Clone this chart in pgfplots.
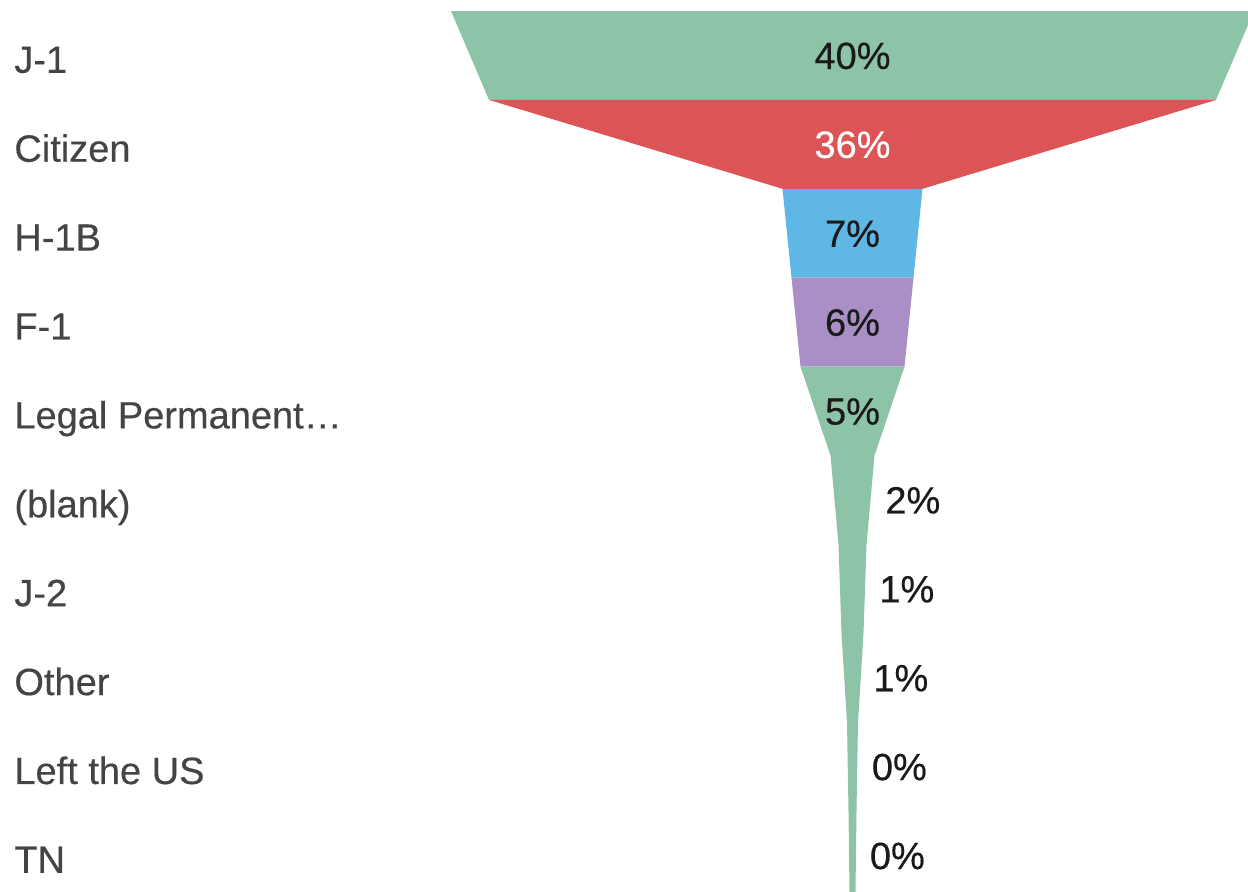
\documentclass[border=0pt]{standalone}
\usepackage{fontspec}
\setmainfont{Liberation Sans}[FakeBold=0.4]
\usepackage{pgfplots}
\pgfplotsset{compat=1.18}
\definecolor{fgreen}{HTML}{8DC3A7}
\definecolor{fred}{HTML}{DC5456}
\definecolor{fblue}{HTML}{5EB7E5}
\definecolor{fpurple}{HTML}{AA8FC7}
\definecolor{catgray}{HTML}{444444}
\definecolor{valblack}{HTML}{1A1A1A}

\begin{document}
\begin{tikzpicture}
\begin{axis}[
    scale only axis,
    width=624pt, height=446pt,
    xmin=-85.25, xmax=39.55,
    ymin=-0.124, ymax=9.91,
    y dir=reverse,
    hide axis,
    clip=false,
]
% frame points (invisible) to fix the picture size
\addplot[draw=none, mark=none] coordinates {(-85.25,-0.124) (39.55,9.91)};

% funnel: x = half width (percent), y = row boundary
\addplot[fill=fgreen, draw=none] coordinates {
    (-40.15,0) (39.55,0) (39.55,0.158) (36.35,1) (-36.35,1)};
\addplot[fill=fred, draw=none] coordinates {
    (-36.35,1) (36.35,1) (7.0,2) (-7.0,2)};
\addplot[fill=fblue, draw=none] coordinates {
    (-7.0,2) (7.0,2) (6.1,3) (-6.1,3)};
\addplot[fill=fpurple, draw=none] coordinates {
    (-6.1,3) (6.1,3) (5.2,4) (-5.2,4)};
\addplot[fill=fgreen, draw=none] coordinates {
    (-5.2,4) (5.2,4) (2.2,5) (1.4,6) (1.1,7) (0.55,8) (0.4,9) (0.3,9.91)
    (-0.3,9.91) (-0.4,9) (-0.55,8) (-1.1,7) (-1.4,6) (-2.2,5)};

% category labels
\addplot[draw=none, mark=none, nodes near coords, point meta=explicit symbolic,
    every node near coord/.append style={anchor=base west, inner sep=0pt,
        text=catgray, font=\fontsize{19pt}{19pt}\selectfont}]
    table[col sep=comma, meta=lab] {
x,y,lab
-83.85,0.695,J-1
-83.85,1.695,Citizen
-83.85,2.695,H-1B
-83.85,3.695,F-1
-83.85,4.695,Legal Permanent…
-83.85,5.695,(blank)
-83.85,6.695,J-2
-83.85,7.695,Other
-83.85,8.695,Left the US
-83.85,9.695,TN
};

% value labels inside the funnel
\addplot[draw=none, mark=none, nodes near coords, point meta=explicit symbolic,
    every node near coord/.append style={anchor=base, inner sep=0pt,
        text=valblack, font=\fontsize{19pt}{19pt}\selectfont}]
    table[col sep=comma, meta=lab] {
x,y,lab
0,0.652,40\%
0,2.652,7\%
0,3.652,6\%
0,4.652,5\%
};
\addplot[draw=none, mark=none, nodes near coords, point meta=explicit symbolic,
    every node near coord/.append style={anchor=base, inner sep=0pt,
        text=white, font=\fontsize{19pt}{19pt}\selectfont}]
    table[col sep=comma, meta=lab] {
x,y,lab
0,1.652,36\%
};
% value labels beside the narrow part
\addplot[draw=none, mark=none, nodes near coords, point meta=explicit symbolic,
    every node near coord/.append style={anchor=base west, inner sep=0pt,
        text=valblack, font=\fontsize{19pt}{19pt}\selectfont}]
    table[col sep=comma, meta=lab] {
x,y,lab
3.25,5.652,2\%
2.65,6.652,1\%
2.05,7.652,1\%
1.9,8.652,0\%
1.7,9.652,0\%
};
\end{axis}
\end{tikzpicture}
\end{document}
